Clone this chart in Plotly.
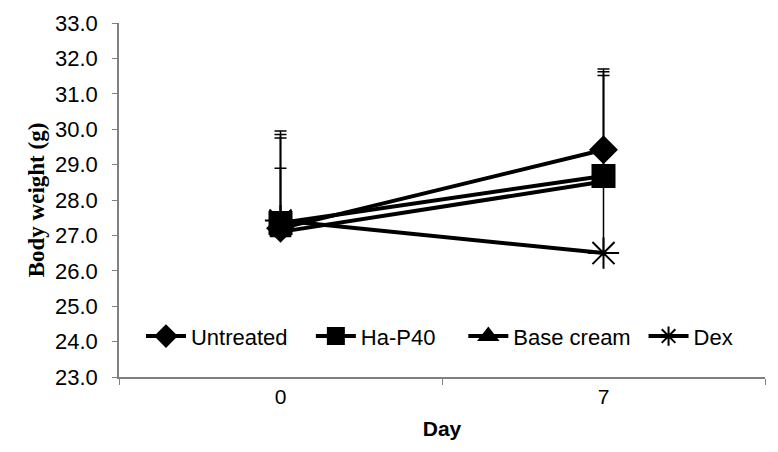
import plotly.graph_objects as go

days = ["0", "7"]
series = ["Untreated", "Ha-P40", "Base cream", "Dex"]
untreated = [27.2, 29.42]
ha_p40 = [27.35, 28.68]
base_cream = [27.1, 28.52]
dex = [27.42, 26.5]
err_untreated = [2.75, 2.28]
err_ha_p40 = [2.5, 2.94]
err_base_cream = [2.65, 3.0]
err_dex = [1.48, 2.2]
y_ticks = [23, 24, 25, 26, 27, 28, 29, 30, 31, 32, 33]

values = [untreated, ha_p40, base_cream, dex]
errors = [err_untreated, err_ha_p40, err_base_cream, err_dex]
symbols = ["diamond", "square", "triangle-up", "asterisk-open"]
sizes = [20, 22, 18, 26]
legend_ids = ["legend", "legend2", "legend3", "legend4"]
legend_x = [0.034, 0.297, 0.533, 0.812]

fig = go.Figure()
for name, v, e, s, sz, lg in zip(series, values, errors, symbols, sizes, legend_ids):
    fig.add_trace(go.Scatter(
        x=days, y=v, name=name, mode="lines+markers", legend=lg,
        line=dict(color="black", width=4),
        marker=dict(symbol=s, size=sz, color="black",
                    line=dict(color="black", width=2)),
        error_y=dict(type="data", array=e, arrayminus=[0, 0], symmetric=False,
                     color="black", thickness=1.5, width=6),
    ))

fig.add_annotation(x=days[1], y=dex[1] + 0.72, text="*", showarrow=False,
                   xshift=12, font=dict(family="Liberation Sans", size=22, color="black"))

legend_common = dict(orientation="h", xanchor="left", y=0.115, yanchor="middle",
                     font=dict(family="Liberation Sans", size=22, color="black"),
                     bgcolor="rgba(255,255,255,1)", itemwidth=40)

fig.update_layout(
    width=778, height=452,
    margin=dict(l=111, r=21, t=15, b=83),
    paper_bgcolor="white", plot_bgcolor="white",
    font=dict(family="Liberation Sans", color="black"),
    showlegend=True,
    legend=dict(x=legend_x[0], **legend_common),
    legend2=dict(x=legend_x[1], **legend_common),
    legend3=dict(x=legend_x[2], **legend_common),
    legend4=dict(x=legend_x[3], **legend_common),
    xaxis=dict(type="category", tickson="boundaries", ticks="outside", ticklen=6,
               tickcolor="#808080", showline=True, linecolor="#808080", linewidth=1.5,
               showgrid=False, automargin=False,
               tickfont=dict(size=21, family="Liberation Sans"),
               title=dict(text="<b>Day</b>", font=dict(size=21, family="Liberation Sans"), standoff=14),
               range=[-0.5, 1.5]),
    yaxis=dict(range=[23, 33], tickvals=y_ticks, tickformat=".1f",
               ticklabelstandoff=10,
               ticks="outside", ticklen=5, tickcolor="#808080", showline=True,
               linecolor="#808080", linewidth=1.5, showgrid=False, zeroline=False,
               automargin=False,
               tickfont=dict(size=22, family="Liberation Sans"),
               title=dict(text="<b>Body weight (g)</b>",
                          font=dict(size=23, family="Liberation Serif"), standoff=4)),
)

fig.write_html("out.html")
